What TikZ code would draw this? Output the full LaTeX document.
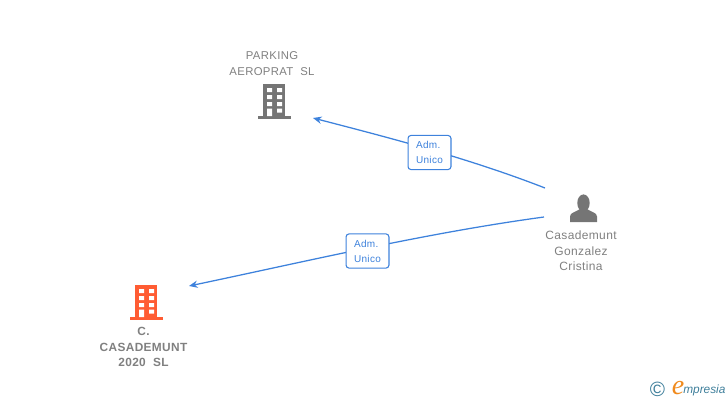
\documentclass[tikz,border=0pt]{standalone}
\usepackage{fontspec}
\setmainfont{Liberation Sans}
\newfontfamily\lblfont[LetterSpace=3]{Liberation Sans}
\newfontfamily\badgefont[LetterSpace=3]{Liberation Sans}
\newfontfamily\logofont{Liberation Serif}
\definecolor{edgeblue}{HTML}{3E82DC}
\definecolor{txtgray}{HTML}{808080}
\definecolor{icongray}{HTML}{757575}
\definecolor{iconorange}{HTML}{FF5C33}
\definecolor{logoteal}{HTML}{3F7F9B}
\definecolor{logoorange}{HTML}{F08A1D}
\usetikzlibrary{arrows.meta}
\tikzset{
  x=0.75pt,y=-0.75pt,
  edgeline/.style={draw=edgeblue,line width=0.95pt},
  arrowline/.style={edgeline,-{Stealth[length=6.5pt,width=5.5pt]}},
  badge/.style={draw=edgeblue,line width=0.8pt,rounded corners=2.2pt,fill=white,
    minimum width=32.2pt,minimum height=25.6pt,inner sep=0pt,align=left,
    text=edgeblue,font=\badgefont\fontsize{7.5pt}{11.3pt}\selectfont},
  lbl/.style={align=center,inner sep=0pt,text=txtgray,font=\lblfont\fontsize{#1}{11.6pt}\selectfont},
  boldlbl/.style={align=center,inner sep=0pt,text=txtgray,font=\lblfont\bfseries\fontsize{8.9pt}{11.7pt}\selectfont},
  pics/tower/.style={code={
    \fill[#1] (-11,-32) rectangle (11,0);
    \fill[#1] (-16,0) rectangle (17,3);
    \fill[white] (-7,-28) rectangle (-2,-24) (3,-28) rectangle (8,-24)
                 (-7,-21) rectangle (-2,-17) (3,-21) rectangle (8,-17)
                 (-7,-14) rectangle (-2,-10) (3,-14) rectangle (8,-10)
                 (-7,-7.5) rectangle (-2,0) (3,-7.5) rectangle (8,-3.5);
  }},
}
\begin{document}
\begin{tikzpicture}
\useasboundingbox (0,0) rectangle (728,400);
% icons
\path (274,116) pic {tower=icongray};
\path (146,317) pic {tower=iconorange};
\fill[icongray] (583.5,203) ellipse (6.2 and 8.6);
\fill[icongray] (570,222) -- (570,216.5) .. controls (570,212.5) and (576,212) .. (580,209)
  -- (587,209) .. controls (591,212) and (597,212.5) .. (597,216.5) -- (597,222) -- cycle;
% labels
\node[lbl=8.5pt,font=\lblfont\fontsize{8.5pt}{12pt}\selectfont] (parking) at (272,63.6) {PARKING\\AEROPRAT\ \ SL};
\node[boldlbl] (casa) at (143.5,347) {C.\\CASADEMUNT\\2020\ \ SL};
\node[lbl=9pt] (person) at (581,251) {Casademunt\\Gonzalez\\Cristina};
% anchors of the connectors
\coordinate (p1) at (545,188);
\coordinate (p2) at (544,217);
\coordinate (t1) at (313,118);
\coordinate (t2) at (189,286);
% connectors, running under their badges
\draw[arrowline] (p1) .. controls (468,158) and (390,138) .. (t1);
\draw[arrowline] (p2) .. controls (426,233) and (307,261.2) .. (t2);
% badges
\node[badge] (b1) at (429.5,152.5) {Adm.\\Unico};
\node[badge] (b2) at (367.5,251) {Adm.\\Unico};
% logo
\node[inner sep=0pt,text=logoteal,font=\fontsize{15.5pt}{16pt}\selectfont] (cc) at (657.5,389) {©};
\node[inner sep=0pt,text=logoorange,font=\logofont\itshape\fontsize{21pt}{21pt}\selectfont,anchor=base west] (le) at (671.5,394) {e};
\node[inner sep=0pt,text=logoteal,font=\itshape\fontsize{8.9pt}{11pt}\selectfont,anchor=base west] (lm) at (683,393.5) {mpresia};
\end{tikzpicture}
\end{document}
